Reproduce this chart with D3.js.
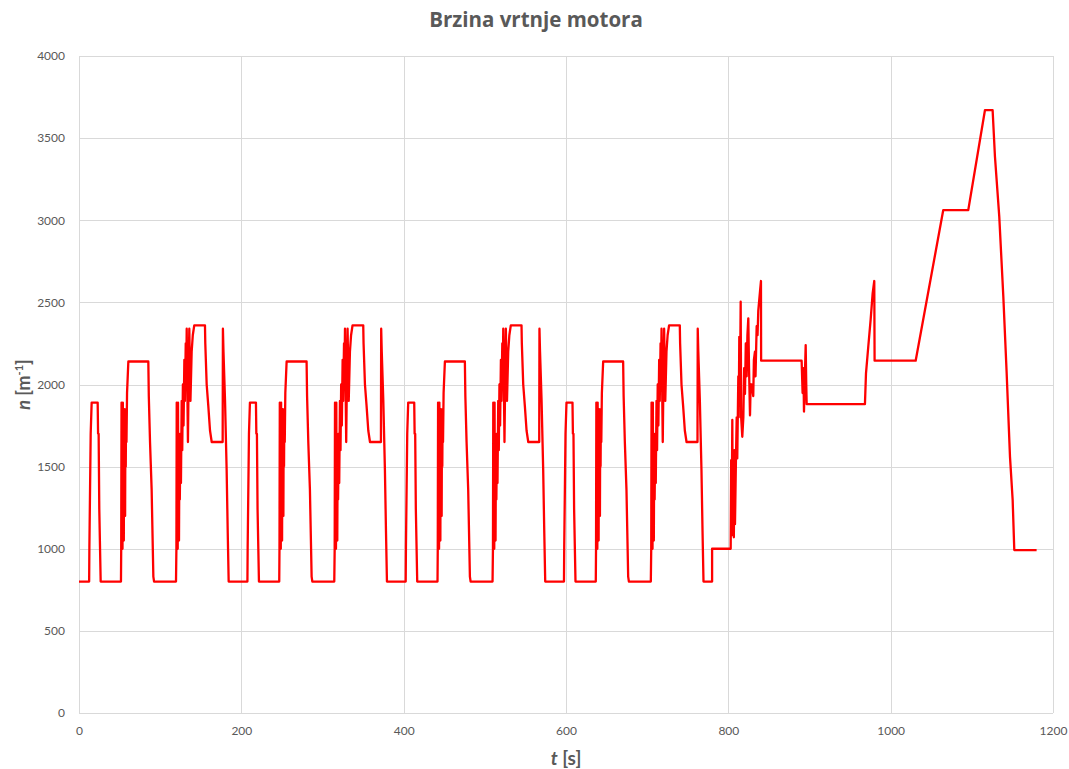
<!DOCTYPE html>
<html>
<head>
<meta charset="utf-8">
<script src="https://cdnjs.cloudflare.com/ajax/libs/d3/7.8.5/d3.min.js"></script>
<style>
  body { margin: 0; background: #fff; }
  text { font-family: Lato, "Open Sans", sans-serif; }
  .tick text { fill: #595959; font-size: 12px; }
  .grid line { stroke: #d9d9d9; stroke-width: 1; }
  .title { font-family: "Open Sans", sans-serif; font-size: 20.5px; font-weight: bold; }
</style>
</head>
<body>
<div id="chart"></div>
<script>
// one urban (ECE) cycle, time in s from cycle start, engine speed
var urbanT = [0, 12.5, 12.8, 14.4, 15.6, 23, 23.5, 24.2, 25, 26.7,
  51.7, 52, 52.4, 52.8, 53.2, 53.6, 54, 54.4, 54.8, 55.2, 55.6, 56, 56.4, 56.8, 57.2, 57.6, 58, 58.5, 59.2, 60.8,
  85.4, 86, 87.5, 89.5, 91.6, 92.5,
  119.5, 120, 120.4, 120.8, 121.2, 121.6, 122, 122.4, 122.8, 123.2, 123.6, 124.2, 125, 125.6, 126.5, 127.2,
  128, 128.8, 129.8, 130.5, 131.5, 132, 132.7, 134.2, 135.2, 135.9, 137.3, 138.8, 140.2, 142,
  155.2, 155.6, 157.3, 159.3, 161.4, 163.5, 177, 177.3, 178, 179.9, 181.9, 183.2, 184.4, 195];
var urbanN = [800, 800, 1010, 1700, 1890, 1890, 1700, 1700, 1240, 800,
  800, 1000, 1890, 1100, 1800, 1000, 1890, 1150, 1750, 1050, 1850, 1300, 1700, 1200, 1800, 1500, 1850, 1650, 1950, 2140,
  2140, 1930, 1650, 1360, 830, 800,
  800, 1000, 1890, 1050, 1800, 1000, 1890, 1200, 1700, 1050, 1500, 1300, 1700, 1400, 1900, 1600,
  2000, 1750, 2150, 1900, 2250, 2000, 2340, 1650, 2100, 2340, 1900, 2200, 2300, 2360,
  2360, 2250, 2000, 1870, 1720, 1650, 1650, 2340, 2200, 1905, 1480, 1110, 800, 800];
var cycleStarts = [0, 195, 390, 585];

// extra-urban part
var eudcT = [780, 802.9, 803.5, 804, 804.9, 805.5, 806.2, 806.8, 807.5, 808.2, 809.4, 810.3, 811, 812.3, 812.8,
  813.5, 814.2, 815.2, 815.8, 817.2, 818.5, 819.5, 820.5, 821.5, 822.6, 823.5, 824.6, 825.5, 826.7, 827.5,
  828.8, 830.7, 831.5, 832.8, 833.5, 834.9, 836, 836.9, 839, 840.2, 840.4,
  890.3, 891.5, 892.5, 893.2, 894, 895.3, 896, 896.5, 898.5,
  968.3, 969.6, 972.4, 975.3, 977.8, 979.8, 980.2, 1030.8, 1064.8, 1095.6, 1116.2, 1125.6,
  1128.5, 1133.8, 1138.8, 1142.9, 1147, 1150.3, 1152.3, 1179.8];
var eudcN = [1000, 1000, 1540, 1080, 1784, 1100, 1550, 1070, 1600, 1150, 1550, 1800, 1550, 2050, 1800,
  2290, 1900, 2504, 1800, 1682, 1800, 2100, 1943, 2250, 2050, 2300, 2403, 2100, 1812, 2000,
  2000, 1930, 2150, 2200, 2050, 2355, 2300, 2450, 2565, 2630, 2145,
  2145, 1948, 2100, 1835, 2000, 2240, 2000, 1880, 1880,
  1880, 2068, 2230, 2393, 2555, 2630, 2145, 2145, 3062, 3062, 3671, 3671,
  3387, 3022, 2535, 2070, 1561, 1297, 992, 992];

var xTicks = [0, 200, 400, 600, 800, 1000, 1200];
var yTicks = [0, 500, 1000, 1500, 2000, 2500, 3000, 3500, 4000];

var svgWidth = 1069;
var svgHeight = 769;
var margin = { top: 56, right: 16, bottom: 56, left: 79 };
var width = svgWidth - margin.left - margin.right;
var height = svgHeight - margin.top - margin.bottom;

var data = [];
cycleStarts.forEach(function(c) {
  urbanT.forEach(function(t, i) {
    data.push({ t: c + t, n: urbanN[i] });
  });
});
eudcT.forEach(function(t, i) {
  data.push({ t: t, n: eudcN[i] });
});

var svg = d3.select("#chart")
  .append("svg")
  .attr("width", svgWidth)
  .attr("height", svgHeight);

var chartGroup = svg.append("g")
  .attr("transform", `translate(${margin.left}, ${margin.top})`);

var xScale = d3.scaleLinear().domain([0, 1200]).range([0, width]);
var yScale = d3.scaleLinear().domain([0, 4000]).range([height, 0]);

// gridlines
chartGroup.append("g")
  .classed("grid", true)
  .selectAll("line.h")
  .data(yTicks)
  .enter()
  .append("line")
  .attr("x1", 0)
  .attr("x2", width)
  .attr("y1", d => Math.round(yScale(d)) + 0.5)
  .attr("y2", d => Math.round(yScale(d)) + 0.5);

chartGroup.append("g")
  .classed("grid", true)
  .selectAll("line.v")
  .data(xTicks)
  .enter()
  .append("line")
  .attr("y1", 0)
  .attr("y2", height)
  .attr("x1", d => Math.round(xScale(d)) + 0.5)
  .attr("x2", d => Math.round(xScale(d)) + 0.5);

// axes (labels only)
var bottomAxis = d3.axisBottom(xScale).tickValues(xTicks).tickFormat(d3.format("d"))
  .tickSize(0).tickPadding(13);
var leftAxis = d3.axisLeft(yScale).tickValues(yTicks).tickFormat(d3.format("d"))
  .tickSize(0).tickPadding(14);

chartGroup.append("g")
  .attr("transform", `translate(0, ${height})`)
  .call(bottomAxis)
  .call(g => g.select(".domain").remove());

chartGroup.append("g")
  .call(leftAxis)
  .call(g => g.select(".domain").remove());

// line
var line = d3.line()
  .x(d => xScale(d.t))
  .y(d => yScale(d.n));

chartGroup.append("path")
  .datum(data)
  .attr("fill", "none")
  .attr("stroke", "#ff0000")
  .attr("stroke-width", 2.3)
  .attr("stroke-linejoin", "round")
  .attr("d", line);

// title
svg.append("text")
  .classed("title", true)
  .attr("x", 536)
  .attr("y", 27)
  .attr("text-anchor", "middle")
  .attr("fill", "#595959")
  .text("Brzina vrtnje motora");

// axis titles
var xLabel = svg.append("text")
  .attr("x", margin.left + width / 2)
  .attr("y", 765)
  .attr("text-anchor", "middle")
  .attr("fill", "#595959")
  .attr("font-size", "19px")
  .attr("font-weight", "bold");
xLabel.append("tspan").attr("font-style", "italic").text("t");
xLabel.append("tspan").text(" [s]");

var yLabel = svg.append("text")
  .attr("transform", `translate(30, ${margin.top + height / 2}) rotate(-90)`)
  .attr("text-anchor", "middle")
  .attr("fill", "#595959")
  .attr("font-size", "18px")
  .attr("font-weight", "bold");
yLabel.append("tspan").attr("font-style", "italic").text("n");
yLabel.append("tspan").text(" [m");
yLabel.append("tspan").attr("font-size", "11px").attr("dy", "-7").text("-1");
yLabel.append("tspan").attr("dy", "7").text("]");
</script>
</body>
</html>
